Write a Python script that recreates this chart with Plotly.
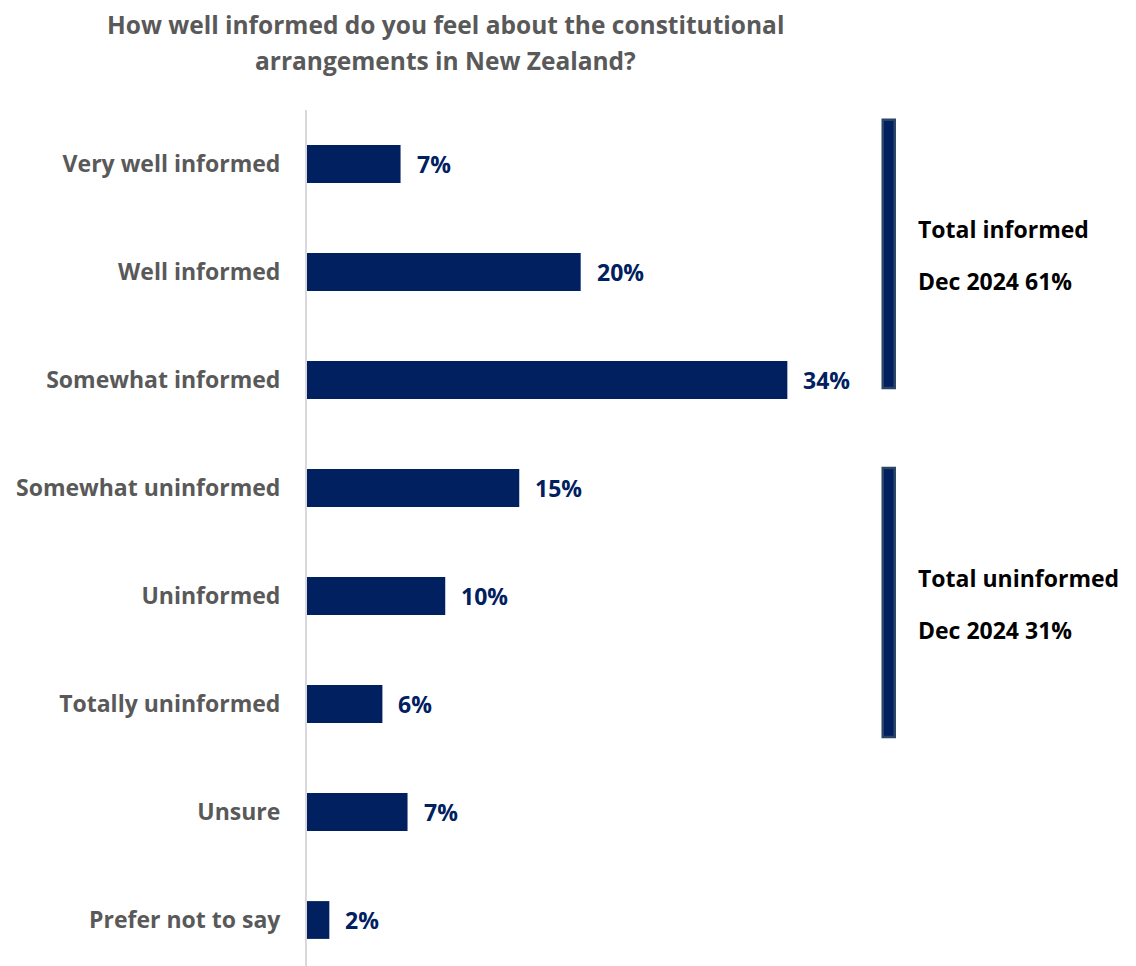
import plotly.graph_objects as go

categories = ["Very well informed", "Well informed", "Somewhat informed", "Somewhat uninformed",
              "Uninformed", "Totally uninformed", "Unsure", "Prefer not to say"]
values = [6.7, 19.6, 34.4, 15.2, 9.9, 5.4, 7.2, 1.6]
value_labels = ["7%", "20%", "34%", "15%", "10%", "6%", "7%", "2%"]

group_names = ["Total informed", "Total uninformed"]
group_labels = ["Dec 2024 61%", "Dec 2024 31%"]
title_lines = ["How well informed do you feel about the constitutional",
               "arrangements in New Zealand?"]

NAVY = "#002060"
GRAY = "#595959"
FONT = "Open Sans"
FS = 23

W, H = 1136, 966
L, T = 307, 110
PX_PER_UNIT = 13.97
XMAX = 55
R = W - L - int(round(XMAX * PX_PER_UNIT))
CAT_PX = 108
y_bottom = (H - T) / CAT_PX - 0.5
# bracket extents in category units
bracket_spans = [(-0.41, 2.075), (2.815, 5.305)]

fig = go.Figure(go.Bar(
    y=categories, x=values, orientation="h",
    marker=dict(color=NAVY, line=dict(width=0)),
    width=0.35, cliponaxis=False,
))

for c, v, lab in zip(categories, values, value_labels):
    fig.add_annotation(xref="x", yref="y", x=v, y=c, text=lab, showarrow=False,
                       xanchor="left", yanchor="middle", xshift=14,
                       font=dict(family=FONT, size=FS, color=NAVY, weight="bold"))

for (y0, y1), name, lab in zip(bracket_spans, group_names, group_labels):
    fig.add_shape(type="rect", xref="x", yref="y",
                  x0=(883 - L) / PX_PER_UNIT, x1=(895 - L) / PX_PER_UNIT,
                  y0=y0, y1=y1,
                  fillcolor=NAVY, line=dict(color="#2B4566", width=2.5), layer="above")
    yc = (y0 + y1) / 2
    fig.add_annotation(xref="x", yref="y", x=(916 - L) / PX_PER_UNIT, y=yc - 0.23,
                       text=name, showarrow=False, xanchor="left", yanchor="middle",
                       font=dict(family=FONT, size=FS, color="#000000", weight="bold"))
    fig.add_annotation(xref="x", yref="y", x=(916 - L) / PX_PER_UNIT, y=yc + 0.255,
                       text=lab, showarrow=False, xanchor="left", yanchor="middle",
                       font=dict(family=FONT, size=FS, color="#000000", weight="bold"))

# title (two lines)
for line, ypx in zip(title_lines, [24, 60]):
    fig.add_annotation(xref="paper", yref="paper",
                       x=(445 - L) / (W - L - R), y=(H - ypx) / (H - T),
                       text=line, showarrow=False, xanchor="center", yanchor="middle",
                       font=dict(family=FONT, size=24.5, color=GRAY, weight="bold"))

fig.update_layout(
    width=W, height=H,
    margin=dict(l=L, r=R, t=T, b=0, pad=0),
    paper_bgcolor="white", plot_bgcolor="white",
    showlegend=False,
    bargap=0.65,
)
fig.update_xaxes(range=[0, XMAX], visible=False, fixedrange=True)
fig.update_yaxes(categoryorder="array", categoryarray=categories,
                 range=[y_bottom, -0.5],
                 showline=True, linecolor="#D9D9D9", linewidth=2,
                 ticks="", showgrid=False, zeroline=False,
                 ticklabelstandoff=20,
                 tickfont=dict(family=FONT, size=FS, color=GRAY, weight="bold"))

fig.write_html("out.html")
